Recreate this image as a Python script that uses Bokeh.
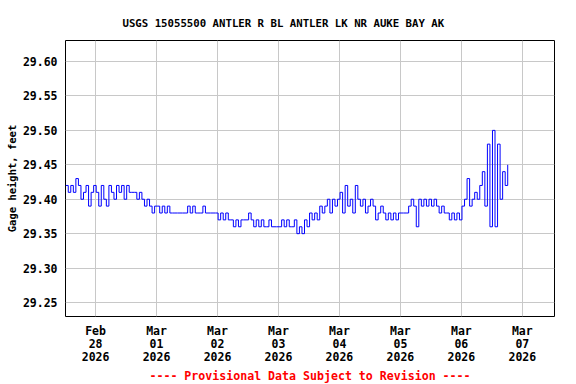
import pandas as pd
from bokeh.plotting import figure
from bokeh.models import Range1d, FixedTicker, NumeralTickFormatter, DaysTicker, DatetimeTickFormatter, Title
from bokeh.embed import file_html
from bokeh.resources import INLINE

# ---- data (hourly gage height readings, feet) ----
start_time = "2026-02-27 12:15"
gage_ft = [
    29.42, 29.41, 29.42, 29.41, 29.43, 29.42, 29.40, 29.41, 29.42, 29.39, 29.41, 29.42,
    29.41, 29.39, 29.42, 29.40, 29.39, 29.42, 29.41, 29.40, 29.42, 29.41, 29.42, 29.40,
    29.42, 29.41, 29.41, 29.41, 29.40, 29.41, 29.40, 29.39, 29.40, 29.39, 29.38, 29.39,
    29.39, 29.38, 29.39, 29.38, 29.39, 29.38, 29.38, 29.38, 29.38, 29.38, 29.38, 29.38,
    29.39, 29.38, 29.39, 29.38, 29.38, 29.38, 29.39, 29.38, 29.38, 29.38, 29.38, 29.38,
    29.37, 29.38, 29.37, 29.38, 29.37, 29.37, 29.36, 29.37, 29.36, 29.37, 29.37, 29.37,
    29.38, 29.37, 29.36, 29.37, 29.36, 29.37, 29.36, 29.36, 29.37, 29.36, 29.36, 29.36,
    29.36, 29.37, 29.36, 29.37, 29.36, 29.36, 29.37, 29.35, 29.36, 29.35, 29.37, 29.36,
    29.38, 29.37, 29.38, 29.37, 29.39, 29.38, 29.39, 29.40, 29.38, 29.40, 29.39, 29.40,
    29.41, 29.38, 29.42, 29.39, 29.40, 29.38, 29.42, 29.40, 29.39, 29.40, 29.38, 29.39,
    29.40, 29.39, 29.37, 29.38, 29.39, 29.38, 29.37, 29.38, 29.37, 29.38, 29.37, 29.38,
    29.38, 29.38, 29.38, 29.39, 29.40, 29.39, 29.36, 29.40, 29.39, 29.40, 29.39, 29.40,
    29.39, 29.40, 29.39, 29.38, 29.39, 29.38, 29.38, 29.37, 29.38, 29.37, 29.38, 29.37,
    29.39, 29.40, 29.43, 29.39, 29.40, 29.41, 29.40, 29.42, 29.44, 29.39, 29.48, 29.36,
    29.50, 29.36, 29.48, 29.40, 29.44, 29.42, 29.45,
]
times = pd.date_range(start_time, periods=len(gage_ft), freq="1h")

y_ticks = [29.25, 29.30, 29.35, 29.40, 29.45, 29.50, 29.55, 29.60]
title_text = "USGS 15055500 ANTLER R BL ANTLER LK NR AUKE BAY AK"
y_label = "Gage height, feet"
footer_text = "---- Provisional Data Subject to Revision ----"

FONT = "DejaVu Sans Mono"

p = figure(
    width=576, height=384,
    x_axis_type="datetime",
    x_range=Range1d(pd.Timestamp("2026-02-27 12:10"), pd.Timestamp("2026-03-07 12:40")),
    y_range=Range1d(29.2297, 29.6305),
    output_backend="svg", toolbar_location=None,
    min_border_left=65, min_border_right=22, min_border_top=40, min_border_bottom=68,
)

p.step(times, gage_ft, mode="after", line_color="#0000ff", line_width=1)

# title
p.title.text = title_text
p.title.align = "left"
p.title.offset = 57
p.title.text_font = FONT
p.title.text_font_size = "10.7px"
p.title.text_font_style = "bold"
p.title.text_color = "black"
p.title.standoff = 22

# footer
footer = Title(text=footer_text, align="center", text_font=FONT, text_font_size="11.6px",
               text_font_style="bold", text_color="#ff0000", standoff=0)
p.add_layout(footer, "below")

# axes
p.outline_line_color = "black"
p.outline_line_width = 1
for ax in (p.xaxis, p.yaxis):
    ax.axis_line_color = None
    ax.major_tick_line_color = None
    ax.minor_tick_line_color = None
    ax.major_tick_out = 0
    ax.major_tick_in = 0
    ax.minor_tick_out = 0
    ax.minor_tick_in = 0
    ax.major_label_text_font = FONT
    ax.major_label_text_font_size = "11.5px"
    ax.major_label_text_font_style = "bold"
    ax.major_label_text_color = "black"

p.yaxis.ticker = FixedTicker(ticks=y_ticks)
p.yaxis.formatter = NumeralTickFormatter(format="0.00")
p.yaxis.major_label_standoff = 8
p.yaxis.axis_label = y_label
p.yaxis.axis_label_text_font = FONT
p.yaxis.axis_label_text_font_size = "10.5px"
p.yaxis.axis_label_text_font_style = "bold"
p.yaxis.axis_label_text_color = "black"
p.yaxis.axis_label_standoff = 2

p.xaxis.ticker = DaysTicker(days=list(range(1, 32)))
p.xaxis.formatter = DatetimeTickFormatter(days="%b\n%d\n%Y", months="%b\n%d\n%Y", hours="%b\n%d\n%Y")
p.xaxis.major_label_standoff = 7
p.xaxis.major_label_text_line_height = 0.94

p.xgrid.grid_line_color = "#c8c8c8"
p.ygrid.grid_line_color = "#c8c8c8"

p.background_fill_color = "white"
p.border_fill_color = "white"

open("out.html", "w").write(file_html(p, INLINE))
